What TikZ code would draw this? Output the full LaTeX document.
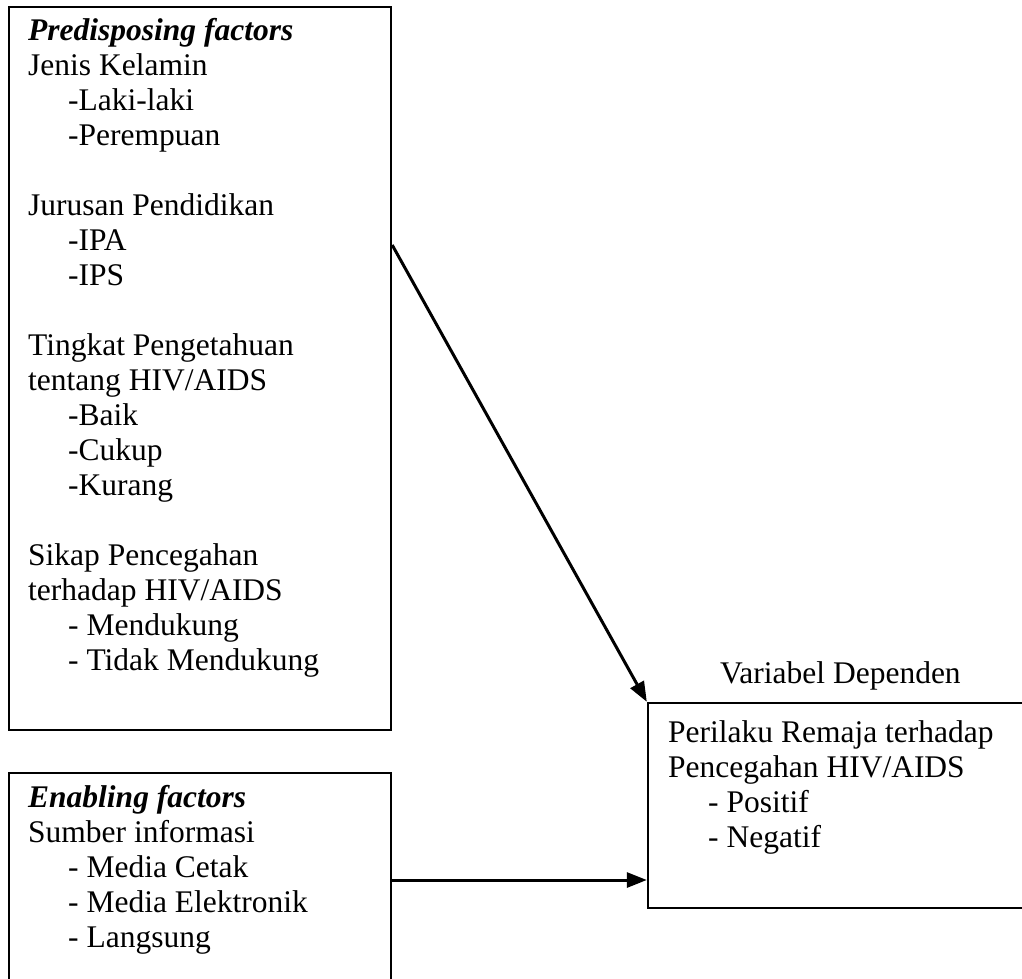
\documentclass[tikz,border=0pt]{standalone}
\usepackage{fontspec}
\setmainfont{Liberation Serif}
\usetikzlibrary{arrows.meta}
\tikzset{
  frame/.style={draw=black, line width=2.4pt, rectangle, inner sep=0pt},
  txt/.style={inner sep=0pt, align=left, anchor=north west, font=\fontsize{31.5}{35}\selectfont},
  conn/.style={draw=black, line width=3pt, -{Triangle[length=20pt,width=15pt]}}
}
\newcommand{\ind}{\hspace*{40pt}}
\begin{document}
\begin{tikzpicture}[x=1pt,y=-1pt]
\useasboundingbox (0,0) rectangle (1022,978);
\clip (0,0) rectangle (1022,978);
% boxes
\node[frame, minimum width=382pt, minimum height=723pt] (pred) at (200,368.5) {};
\node[frame, minimum width=382pt, minimum height=260pt] (enab) at (200,903) {};
\node[frame, minimum width=420pt, minimum height=205pt] (dep) at (858,805.5) {};
% texts (top of \strut = baseline - 24.5)
\node[txt] (predtxt) at (28,15.5) {\strut\textbf{\textit{Predisposing factors}}\\
Jenis Kelamin\\
\ind-Laki-laki\\
\ind-Perempuan\\
\mbox{}\\
Jurusan Pendidikan\\
\ind-IPA\\
\ind-IPS\\
\mbox{}\\
Tingkat Pengetahuan\\
tentang HIV/AIDS\\
\ind-Baik\\
\ind-Cukup\\
\ind-Kurang\\
\mbox{}\\
Sikap Pencegahan\\
terhadap HIV/AIDS\\
\ind- Mendukung\\
\ind- Tidak Mendukung};
\node[txt] (enabtxt) at (28,782.5) {\strut\textbf{\textit{Enabling factors}}\\
Sumber informasi\\
\ind- Media Cetak\\
\ind- Media Elektronik\\
\ind- Langsung};
\node[txt] (deptitle) at (720,658.5) {\strut Variabel Dependen};
\node[txt] (deptxt) at (668,717.5) {\strut Perilaku Remaja terhadap\\
Pencegahan HIV/AIDS\\
\ind- Positif\\
\ind- Negatif};
% connectors
\coordinate (a1) at (pred.east |- 0,245);
\draw[conn] (a1) -- (dep.north west);
\coordinate (a2) at (enab.east |- 0,880);
\draw[conn] (a2) -- (dep.west |- a2);
\end{tikzpicture}
\end{document}
